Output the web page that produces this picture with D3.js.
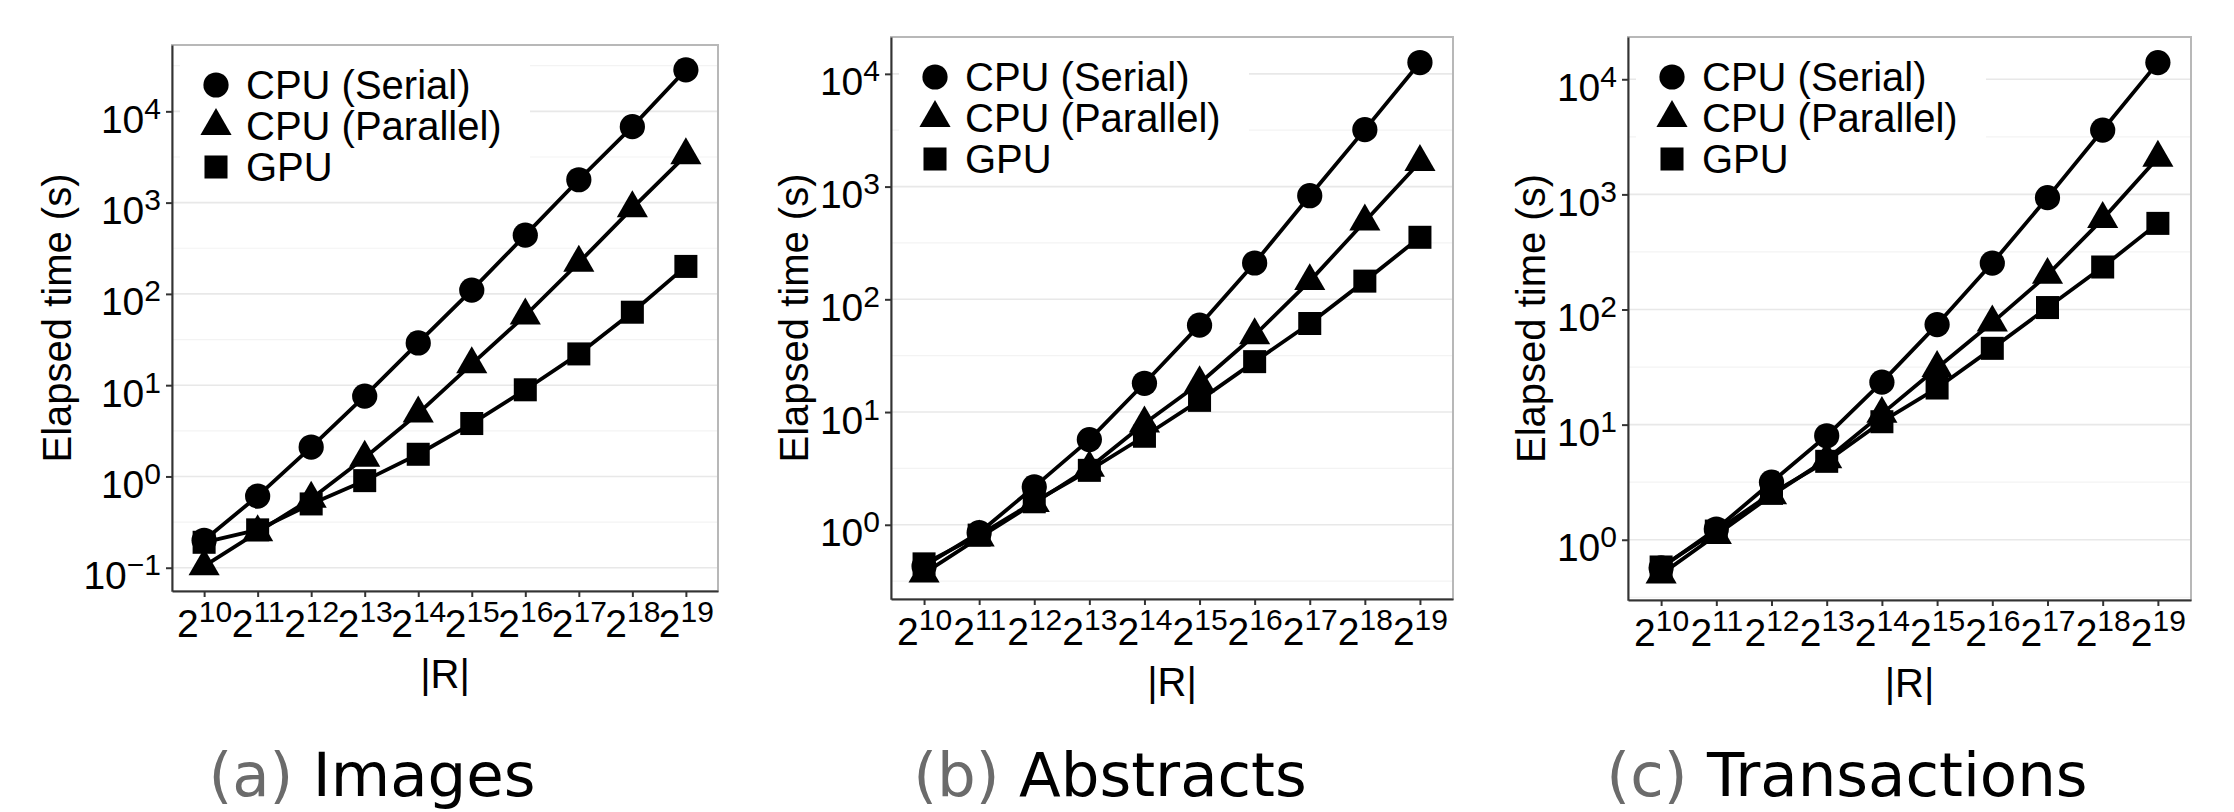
<!DOCTYPE html>
<html>
<head>
<meta charset="utf-8">
<script src="https://cdn.jsdelivr.net/npm/d3@7"></script>
<style>
  body { margin: 0; background: #fff; }
  svg { display: block; font-family: "Liberation Sans", Arial, sans-serif; }
</style>
</head>
<body>
<svg id="chart" width="2234" height="812"></svg>
<script>
// |R| = 2^exponent
const exponents = [10, 11, 12, 13, 14, 15, 16, 17, 18, 19];
const seriesNames = ["CPU (Serial)", "CPU (Parallel)", "GPU"];

// (a) Images, elapsed time in seconds
const imagesSerial   = [0.2, 0.61, 2.1, 7.6, 29, 110, 440, 1780, 6800, 28500];
const imagesParallel = [0.104, 0.245, 0.57, 1.6, 4.9, 17, 58, 220, 870, 3300];
const imagesGpu      = [0.19, 0.26, 0.5, 0.9, 1.75, 3.8, 8.9, 22, 63, 200];

// (b) Abstracts
const abstractsSerial   = [0.43, 0.85, 2.17, 5.7, 18, 59, 210, 830, 3200, 12600];
const abstractsParallel = [0.37, 0.77, 1.56, 3.2, 7.9, 18, 48, 145, 490, 1650];
const abstractsGpu      = [0.45, 0.81, 1.6, 3.04, 6.1, 12.7, 28, 61, 145, 355];

// (c) Transactions
const transactionsSerial   = [0.57, 1.24, 3.16, 8, 23.4, 74, 253, 937, 3620, 13960];
const transactionsParallel = [0.5, 1.1, 2.43, 5, 12.4, 31, 77, 200, 610, 2080];
const transactionsGpu      = [0.58, 1.19, 2.53, 4.8, 10.6, 20.8, 46, 104, 234, 560];

const panels = [
  { tag: "(a)", name: "Images", series: [imagesSerial, imagesParallel, imagesGpu],
    box: { x: 172, y: 45, w: 546, h: 546 }, captionX: 372 },
  { tag: "(b)", name: "Abstracts", series: [abstractsSerial, abstractsParallel, abstractsGpu],
    box: { x: 891, y: 37, w: 562, h: 562 }, captionX: 1110 },
  { tag: "(c)", name: "Transactions", series: [transactionsSerial, transactionsParallel, transactionsGpu],
    box: { x: 1628, y: 37, w: 563, h: 563 }, captionX: 1847 }
];

const symbolTypes = [d3.symbolCircle, d3.symbolTriangle, d3.symbolSquare];
const symbolSizes = [500, 420, 530];
const FONT = 39;
const SUP = 30;

const svg = d3.select("#chart");

// superscript minus for negative exponents
const expText = e => (e < 0 ? "\u2212" : "") + Math.abs(e);

panels.forEach(panel =>
{
  const { x: left, y: top, w, h } = panel.box;
  const bottom = top + h;
  const g = svg.append("g");

  // log domain with ggplot-like 5% expansion
  const all = panel.series.flat();
  const lo = Math.log10(d3.min(all));
  const hi = Math.log10(d3.max(all));
  const pad = (hi - lo) * 0.05;

  const yScale = d3.scaleLog()
    .domain([Math.pow(10, lo - pad), Math.pow(10, hi + pad)])
    .range([bottom, top]);

  const xScale = d3.scalePoint()
    .domain(exponents)
    .range([left, left + w])
    .padding(0.6);

  const decades = d3.range(Math.ceil(lo - pad), Math.floor(hi + pad) + 1);
  const halves = d3.range(Math.ceil(lo - pad - 0.5), Math.floor(hi + pad - 0.5) + 1)
    .map(k => k + 0.5)
    .filter(k => k > lo - pad && k < hi + pad);

  // Grid lines
  g.selectAll(".minor")
    .data(halves)
    .enter()
    .append("line")
    .attr("x1", left).attr("x2", left + w)
    .attr("y1", d => yScale(Math.pow(10, d)))
    .attr("y2", d => yScale(Math.pow(10, d)))
    .attr("stroke", "#f3f3f3")
    .attr("stroke-width", 1.2);

  g.selectAll(".major")
    .data(decades)
    .enter()
    .append("line")
    .attr("x1", left).attr("x2", left + w)
    .attr("y1", d => yScale(Math.pow(10, d)))
    .attr("y2", d => yScale(Math.pow(10, d)))
    .attr("stroke", "#e8e8e8")
    .attr("stroke-width", 1.6);

  // Panel border
  g.append("rect")
    .attr("x", left).attr("y", top)
    .attr("width", w).attr("height", h)
    .attr("fill", "none")
    .attr("stroke", "#b8b8b8")
    .attr("stroke-width", 2);

  // Legend background hides the grid
  g.append("rect")
    .attr("x", left + 8).attr("y", top + 8)
    .attr("width", 350).attr("height", 140)
    .attr("fill", "#fff");

  // Lines
  const line = d3.line()
    .x((d, i) => xScale(exponents[i]))
    .y(d => yScale(d));

  g.selectAll(".series")
    .data(panel.series)
    .enter()
    .append("path")
    .attr("d", d => line(d))
    .attr("fill", "none")
    .attr("stroke", "#000")
    .attr("stroke-width", 3.8)
    .attr("stroke-linejoin", "round");

  // Points
  panel.series.forEach((values, s) =>
  {
    g.selectAll(".pt" + s)
      .data(values)
      .enter()
      .append("path")
      .attr("d", d3.symbol().type(symbolTypes[s]).size(symbolSizes[s]))
      .attr("transform", (d, i) => `translate(${ xScale(exponents[i]) }, ${ yScale(d) })`)
      .attr("fill", "#000");
  });

  // Legend
  const legend = g.append("g")
    .attr("transform", `translate(${ left + 44 }, ${ top + 40 })`);

  seriesNames.forEach((name, s) =>
  {
    legend.append("path")
      .attr("d", d3.symbol().type(symbolTypes[s]).size(symbolSizes[s]))
      .attr("transform", `translate(0, ${ s * 41 })`)
      .attr("fill", "#000");
    legend.append("text")
      .attr("x", 30)
      .attr("y", s * 41 + 14)
      .attr("font-size", 40)
      .attr("fill", "#000")
      .text(name);
  });

  // Y axis
  const yAxisG = g.append("g")
    .attr("transform", `translate(${ left }, 0)`)
    .call(d3.axisLeft(yScale).tickValues(decades.map(k => Math.pow(10, k))).tickSize(6).tickSizeOuter(0).tickFormat(() => ""));

  yAxisG.selectAll(".tick text").remove();
  yAxisG.select(".domain").attr("stroke", "#333").attr("stroke-width", 2);
  yAxisG.selectAll(".tick line").attr("stroke", "#333").attr("stroke-width", 2);

  yAxisG.selectAll(".tick")
    .append("text")
    .attr("class", "ylab")
    .attr("x", -11)
    .attr("y", 21)
    .attr("text-anchor", "end")
    .attr("font-size", FONT)
    .attr("fill", "#000")
    .each(function (d)
    {
      const t = d3.select(this);
      t.append("tspan").text("10");
      t.append("tspan").attr("dy", -14).attr("font-size", SUP).text(expText(Math.round(Math.log10(d))));
    });

  // X axis
  const xAxisG = g.append("g")
    .attr("transform", `translate(0, ${ bottom })`)
    .call(d3.axisBottom(xScale).tickSize(6).tickSizeOuter(0).tickFormat(() => ""));

  xAxisG.selectAll(".tick text").remove();
  xAxisG.select(".domain").attr("stroke", "#333").attr("stroke-width", 2);
  xAxisG.selectAll(".tick line").attr("stroke", "#333").attr("stroke-width", 2);

  xAxisG.selectAll(".tick")
    .append("text")
    .attr("y", 46)
    .attr("text-anchor", "middle")
    .attr("font-size", FONT)
    .attr("fill", "#000")
    .each(function (d)
    {
      const t = d3.select(this);
      t.append("tspan").text("2");
      t.append("tspan").attr("dy", -15).attr("font-size", SUP).text(d);
    });

  // Axis titles
  let labelLeft = left;
  yAxisG.selectAll(".ylab").each(function ()
  {
    const b = this.getBBox();
    labelLeft = Math.min(labelLeft, left + b.x);
  });

  g.append("text")
    .attr("transform", `translate(${ labelLeft - 12 }, ${ top + h / 2 }) rotate(-90)`)
    .attr("text-anchor", "middle")
    .attr("font-size", 40)
    .attr("fill", "#000")
    .text("Elapsed time (s)");

  g.append("text")
    .attr("x", left + w / 2)
    .attr("y", bottom + 97)
    .attr("text-anchor", "middle")
    .attr("font-size", 40)
    .attr("fill", "#000")
    .text("|R|");

  // Sub-figure caption
  const cap = svg.append("text")
    .attr("x", panel.captionX)
    .attr("y", 796)
    .attr("text-anchor", "middle")
    .attr("font-family", "'DejaVu Sans', sans-serif")
    .attr("font-size", 61);
  cap.append("tspan").attr("fill", "#6b6b6b").text(panel.tag);
  cap.append("tspan").attr("fill", "#000").text(" " + panel.name);
});
</script>
</body>
</html>
